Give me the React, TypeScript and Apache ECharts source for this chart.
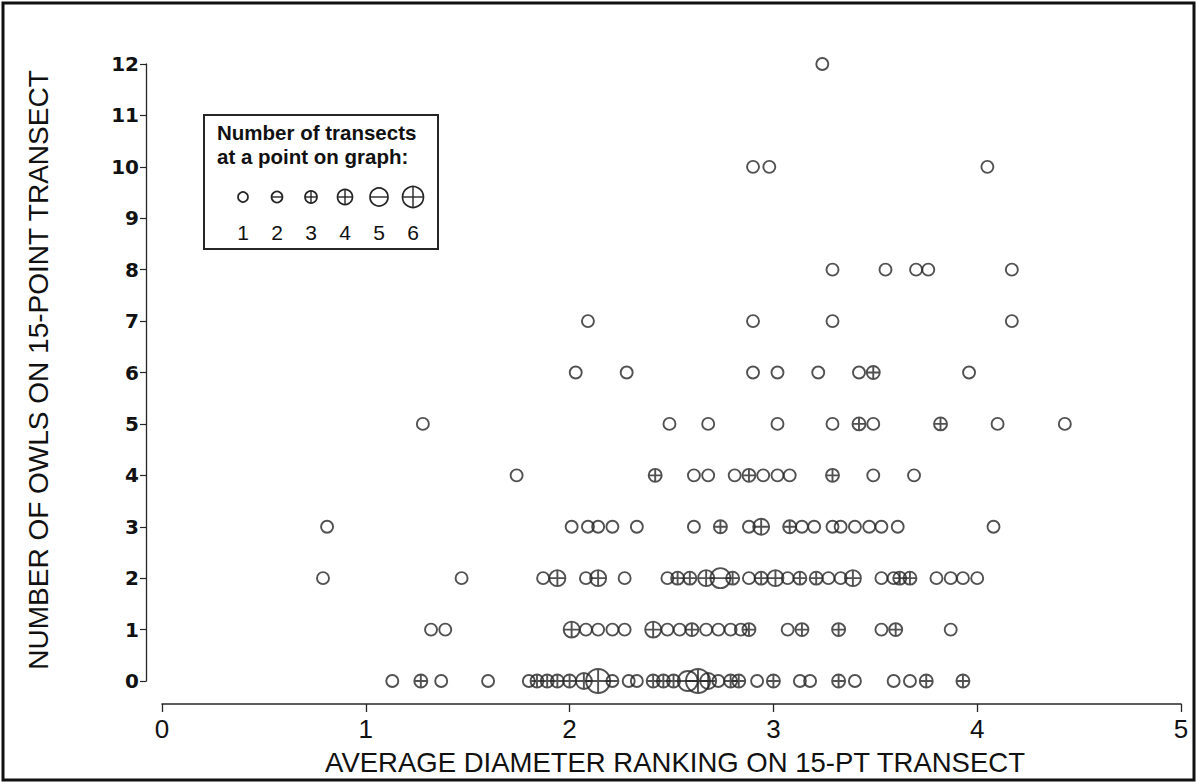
import React, { useEffect, useRef } from "react";
import * as echarts from "echarts";

// ---- data: [average diameter ranking, number of transects at that point] per owl count row
const owls0: [number, number][] = [
  [1.13, 1], [1.27, 3], [1.37, 1], [1.6, 1], [1.8, 1], [1.84, 3], [1.89, 3], [1.94, 3], [2.0, 3],
  [2.07, 4], [2.14, 6], [2.21, 2], [2.29, 1], [2.33, 1], [2.41, 3], [2.46, 3], [2.51, 3], [2.58, 5],
  [2.63, 6], [2.68, 4], [2.73, 1], [2.79, 3], [2.83, 3], [2.92, 1], [3.0, 3], [3.13, 1], [3.18, 1],
  [3.32, 3], [3.4, 1], [3.59, 1], [3.67, 1], [3.75, 3], [3.93, 3],
];
const owls1: [number, number][] = [
  [1.32, 1], [1.39, 1], [2.01, 4], [2.08, 1], [2.14, 1], [2.21, 1], [2.27, 1], [2.41, 4], [2.48, 1],
  [2.54, 1], [2.6, 3], [2.67, 1], [2.73, 1], [2.79, 1], [2.84, 1], [2.88, 3], [3.07, 1], [3.14, 3],
  [3.32, 3], [3.53, 1], [3.6, 3], [3.87, 1],
];
const owls2: [number, number][] = [
  [0.79, 1], [1.47, 1], [1.87, 1], [1.94, 4], [2.08, 1], [2.14, 4], [2.27, 1], [2.48, 1], [2.53, 3],
  [2.59, 3], [2.67, 4], [2.74, 5], [2.8, 3], [2.88, 1], [2.94, 3], [3.01, 4], [3.07, 1], [3.13, 3],
  [3.21, 3], [3.27, 1], [3.33, 1], [3.39, 4], [3.53, 1], [3.59, 1], [3.62, 3], [3.67, 3], [3.8, 1],
  [3.87, 1], [3.93, 1], [4.0, 1],
];
const owls3: [number, number][] = [
  [0.81, 1], [2.01, 1], [2.09, 1], [2.14, 1], [2.21, 1], [2.33, 1], [2.61, 1], [2.74, 3], [2.88, 1],
  [2.94, 4], [3.08, 3], [3.14, 1], [3.2, 1], [3.29, 1], [3.33, 1], [3.4, 1], [3.47, 1], [3.53, 1],
  [3.61, 1], [4.08, 1],
];
const owls4: [number, number][] = [
  [1.74, 1], [2.42, 3], [2.61, 1], [2.68, 1], [2.81, 1], [2.88, 3], [2.95, 1], [3.02, 1], [3.08, 1],
  [3.29, 3], [3.49, 1], [3.69, 1],
];
const owls5: [number, number][] = [
  [1.28, 1], [2.49, 1], [2.68, 1], [3.02, 1], [3.29, 1], [3.42, 3], [3.49, 1], [3.82, 3], [4.1, 1],
  [4.43, 1],
];
const owls6: [number, number][] = [
  [2.03, 1], [2.28, 1], [2.9, 1], [3.02, 1], [3.22, 1], [3.42, 1], [3.49, 3], [3.96, 1],
];
const owls7: [number, number][] = [[2.09, 1], [2.9, 1], [3.29, 1], [4.17, 1]];
const owls8: [number, number][] = [[3.29, 1], [3.55, 1], [3.7, 1], [3.76, 1], [4.17, 1]];
const owls10: [number, number][] = [[2.9, 1], [2.98, 1], [4.05, 1]];
const owls12: [number, number][] = [[3.24, 1]];

const rows: [number, [number, number][]][] = [
  [0, owls0], [1, owls1], [2, owls2], [3, owls3], [4, owls4], [5, owls5], [6, owls6],
  [7, owls7], [8, owls8], [10, owls10], [12, owls12],
];

const transectCounts = [1, 2, 3, 4, 5, 6];
const legendTitle = ["Number of transects", "at a point on graph:"];
const xTitle = "AVERAGE DIAMETER RANKING ON 15-PT TRANSECT";
const yTitle = "NUMBER OF OWLS ON 15-POINT TRANSECT";

const ring = "M0,-10A10,10,0,1,1,0,10A10,10,0,1,1,0,-10Z";
const symbolFor = (n: number) =>
  n === 1 ? "path://" + ring : n === 2 || n === 5 ? "path://" + ring + "M-10,0L10,0" : "path://" + ring + "M-10,0L10,0M0,-10L0,10";
const dataSize = [12, 12, 13, 16, 20, 24];
const legendSize = [10, 11, 12, 15, 18, 21];
const INK = "#262626";
const NARROW = "'Liberation Sans Narrow', 'Arial Narrow', 'Liberation Sans', Arial, sans-serif";
const SANS = "'Liberation Sans', Arial, sans-serif";

export default function App() {
  const ref = useRef<HTMLDivElement>(null);
  useEffect(() => {
    if (!ref.current) return;
    const chart = echarts.init(ref.current, undefined, { renderer: "svg" });

    const series = transectCounts.map((n) => ({
      type: "scatter",
      name: String(n),
      symbol: symbolFor(n),
      symbolSize: dataSize[n - 1],
      itemStyle: { color: "rgba(0,0,0,0)", borderColor: INK, borderWidth: 1.9 },
      emphasis: { disabled: true },
      data: rows.flatMap(([y, pts]) => pts.filter((p) => p[1] === n).map((p) => [p[0], y])),
      z: 10 - n,
    }));

    // legend drawn as graphic
    const lgLeft = 204, lgTop = 115, lgW = 234, lgH = 134;
    const symX = (i: number) => lgLeft + 39 + i * 34;
    const symY = lgTop + 82;
    const legendEls: any[] = [
      { type: "rect", shape: { x: lgLeft, y: lgTop, width: lgW, height: lgH }, style: { fill: "#fff", stroke: INK, lineWidth: 2 } },
      { type: "text", x: lgLeft + 13, y: lgTop + 17, style: { text: legendTitle[0], font: "bold 20.5px " + SANS, fill: "#111", align: "left", verticalAlign: "middle" } },
      { type: "text", x: lgLeft + 13, y: lgTop + 41, style: { text: legendTitle[1], font: "bold 20.5px " + SANS, fill: "#111", align: "left", verticalAlign: "middle" } },
    ];
    transectCounts.forEach((n, i) => {
      const r = legendSize[i] / 2;
      const cx = symX(i);
      legendEls.push({ type: "circle", shape: { cx, cy: symY, r }, style: { fill: "none", stroke: INK, lineWidth: 1.7 } });
      if (n > 1) legendEls.push({ type: "line", shape: { x1: cx - r, y1: symY, x2: cx + r, y2: symY }, style: { stroke: INK, lineWidth: 1.4 } });
      if (n === 3 || n === 4 || n === 6) legendEls.push({ type: "line", shape: { x1: cx, y1: symY - r, x2: cx, y2: symY + r }, style: { stroke: INK, lineWidth: 1.4 } });
      legendEls.push({ type: "text", x: cx, y: symY + 35, style: { text: String(n), font: "21px " + SANS, fill: "#111", align: "center", verticalAlign: "middle" } });
    });

    chart.setOption({
      animation: false,
      backgroundColor: "#fff",
      grid: { left: 162, right: 17, top: 64, bottom: 103, containLabel: false },
      xAxis: {
        type: "value",
        min: 0,
        max: 5,
        interval: 1,
        offset: 23,
        axisLine: { show: true, onZero: false, lineStyle: { color: INK, width: 1.6 } },
        axisTick: { show: true, inside: false, length: 8, lineStyle: { color: INK, width: 1.3 } },
        axisLabel: { margin: 12, color: "#111", fontSize: 26, fontFamily: NARROW },
        splitLine: { show: false },
      },
      yAxis: {
        type: "value",
        min: 0,
        max: 12,
        interval: 1,
        offset: 16,
        axisLine: { show: true, onZero: false, lineStyle: { color: INK, width: 1.3 } },
        axisTick: { show: true, inside: false, length: 6, lineStyle: { color: INK, width: 1.2 } },
        axisLabel: { margin: 7, color: "#111", fontSize: 20, fontWeight: "bold", fontFamily: "'DejaVu Sans', " + SANS },
        splitLine: { show: false },
      },
      series,
      graphic: [
        { type: "rect", shape: { x: 3, y: 3, width: 1191, height: 777 }, style: { fill: "none", stroke: "#111", lineWidth: 3 }, silent: true },
        { type: "text", x: 675, y: 762, style: { text: xTitle, font: "27.5px " + NARROW, fill: "#111", align: "center", verticalAlign: "middle" } },
        { type: "text", x: 38, y: 370, rotation: Math.PI / 2, style: { text: yTitle, font: "28px " + NARROW, fill: "#111", align: "center", verticalAlign: "middle" } },
        ...legendEls,
      ],
    });
    return () => chart.dispose();
  }, []);
  return <div ref={ref} style={{ position: "fixed", left: 0, top: 0, width: 1198, height: 784, background: "#fff" }} />;
}
